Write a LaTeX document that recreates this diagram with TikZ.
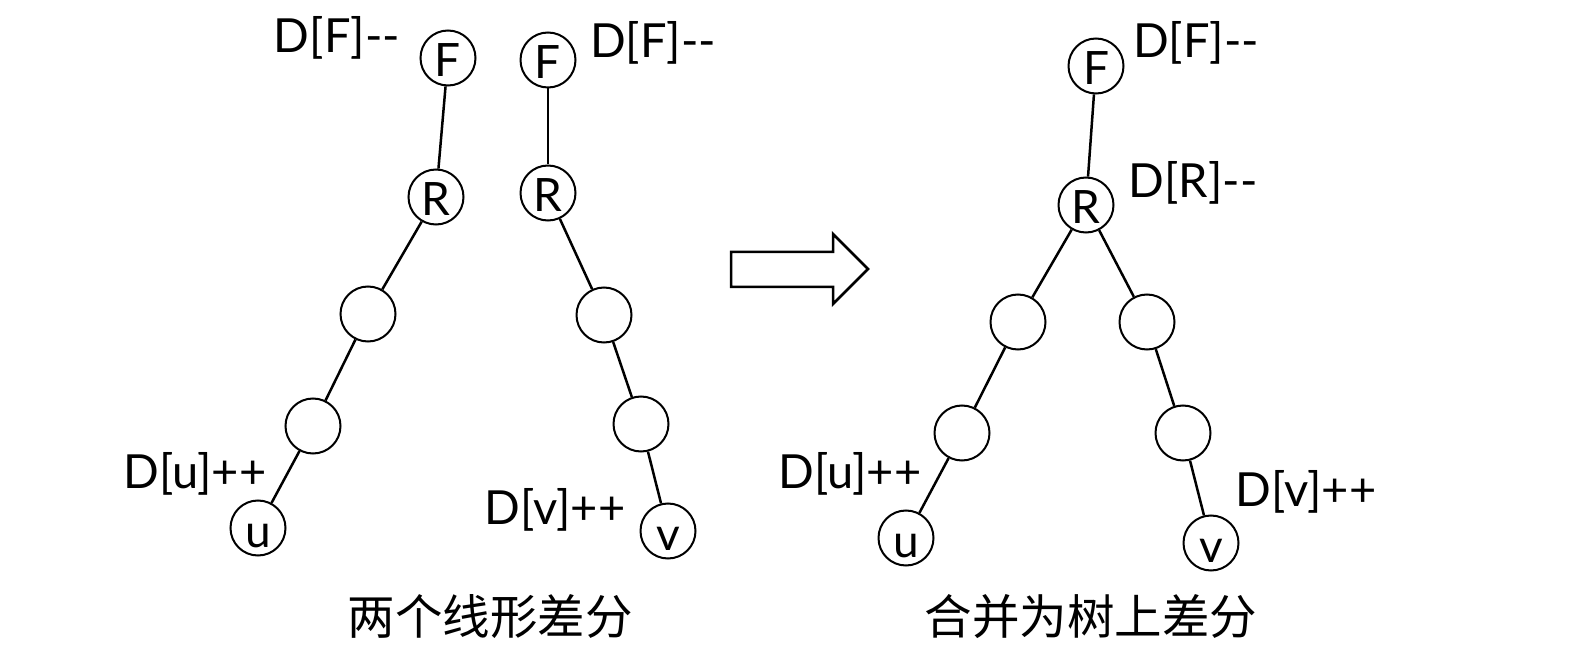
\documentclass[tikz,border=0pt]{standalone}
\usepackage{fontspec}
\setmainfont{Lato}
\newfontfamily\cjk{Noto Sans CJK SC}
\tikzset{
  vtx/.style={draw, circle, line width=2pt, minimum size=55pt, inner sep=0pt,
    text height=38pt, text depth=0pt, font=\fontsize{46}{50}\selectfont},
  lbl/.style={inner sep=0pt, font=\fontsize{47}{56}\selectfont},
  caption/.style={inner sep=0pt, font=\cjk\fontsize{47.5}{56}\selectfont},
  edge/.style={line width=2.5pt}
}

\begin{document}
\begin{tikzpicture}[x=1pt, y=-1pt]
    \useasboundingbox (0,0) rectangle (1591,668);
    % Cây thứ nhất: F -> R -> u
    \node[vtx] (F1) at (448,58) {F};
    \node[vtx] (R1) at (436,197) {R};
    \node[vtx] (a1) at (368,314) {};
    \node[vtx] (b1) at (313,426) {};
    \node[vtx] (u1) at (258,528) {u};
    \foreach \s/\t in {F1/R1, R1/a1, a1/b1, b1/u1}
        \draw[edge] (\s) -- (\t);
    \node[lbl] (lF1) at (337,38) {D[F]-{}-};
    \node[lbl] (lu1) at (195,474) {D[u]++};
    % Cây thứ hai: F -> R -> v
    \node[vtx] (F2) at (548,60) {F};
    \node[vtx] (R2) at (548,193) {R};
    \node[vtx] (a2) at (604,315) {};
    \node[vtx] (b2) at (641,424) {};
    \node[vtx] (v2) at (668,531) {v};
    \foreach \s/\t in {F2/R2, R2/a2, a2/b2, b2/v2}
        \draw[edge] (\s) -- (\t);
    \node[lbl] (lF2) at (653,43) {D[F]-{}-};
    \node[lbl] (lv2) at (555,510) {D[v]++};
    \node[caption] (cap1) at (490,617) {两个线形差分};
    % Mũi tên rỗng
    \draw[line width=2.5pt, line join=miter]
        (731,252) -- (833,252) -- (833,234) -- (868,269) -- (833,304)
        -- (833,287) -- (731,287) -- cycle;
    % Cây hợp nhất
    \node[vtx] (F3) at (1096,66) {F};
    \node[vtx] (R3) at (1086,205) {R};
    \node[vtx] (a3) at (1018,322) {};
    \node[vtx] (b3) at (962,433) {};
    \node[vtx] (u3) at (906,538) {u};
    \node[vtx] (c3) at (1147,322) {};
    \node[vtx] (d3) at (1183,433) {};
    \node[vtx] (v3) at (1211,543) {v};
    \foreach \s/\t in {F3/R3, R3/a3, a3/b3, b3/u3, R3/c3, c3/d3, d3/v3}
        \draw[edge] (\s) -- (\t);
    \node[lbl] (lF3) at (1196,43) {D[F]-{}-};
    \node[lbl] (lR3) at (1193,183) {D[R]-{}-};
    \node[lbl] (lu3) at (850,474) {D[u]++};
    \node[lbl] (lv3) at (1306,492) {D[v]++};
    \node[caption] (cap2) at (1091,617) {合并为树上差分};
\end{tikzpicture}
\end{document}
